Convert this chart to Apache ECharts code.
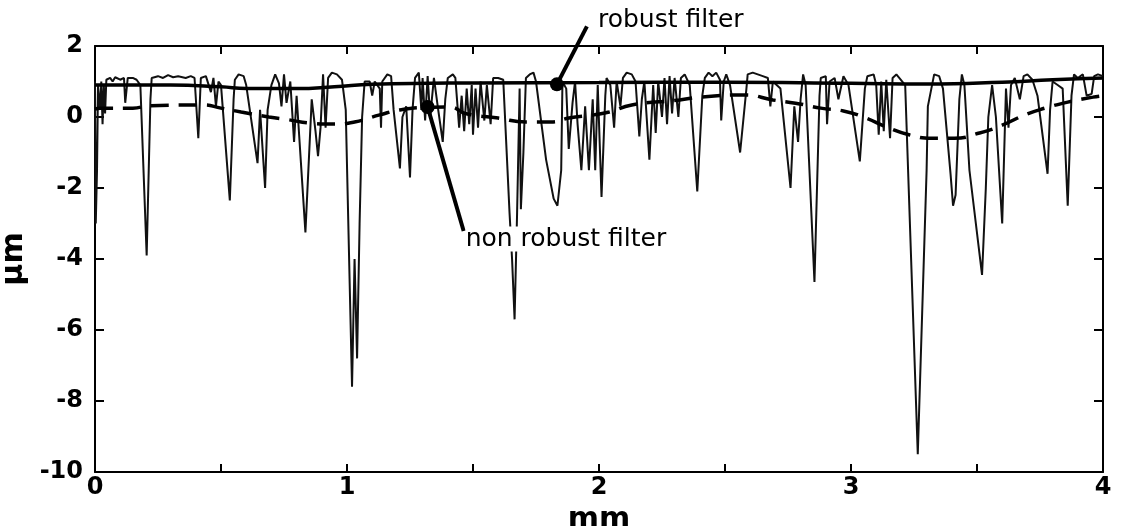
<!DOCTYPE html>
<html>
<head>
<meta charset="utf-8">
<script src="https://cdn.jsdelivr.net/npm/echarts@6/dist/echarts.min.js"></script>
<style>
html,body{margin:0;padding:0;background:#fff;}
#c{width:1124px;height:526px;}
</style>
</head>
<body>
<div id="c"></div>
<script>
// ---- data (mm, µm) ----
const xTicks = [0, 1, 2, 3, 4];
const yTicks = [-10, -8, -6, -4, -2, 0, 2];

const profileX = [0.000,0.003,0.008,0.012,0.020,0.025,0.030,0.035,0.040,0.045,0.060,0.070,0.080,0.100,0.115,0.120,0.130,0.150,0.165,0.180,0.205,0.220,0.225,0.250,0.270,0.290,0.310,0.330,0.360,0.380,0.395,0.410,0.420,0.440,0.460,0.470,0.480,0.490,0.500,0.535,0.550,0.555,0.570,0.590,0.600,0.645,0.655,0.675,0.685,0.700,0.715,0.730,0.740,0.750,0.760,0.775,0.790,0.800,0.835,0.860,0.875,0.885,0.895,0.905,0.915,0.925,0.940,0.960,0.980,0.995,1.010,1.020,1.030,1.040,1.050,1.060,1.070,1.090,1.100,1.110,1.130,1.135,1.140,1.160,1.175,1.185,1.210,1.220,1.235,1.250,1.260,1.270,1.285,1.295,1.300,1.310,1.320,1.330,1.345,1.360,1.380,1.390,1.400,1.420,1.430,1.445,1.455,1.465,1.475,1.485,1.495,1.500,1.510,1.520,1.530,1.545,1.555,1.570,1.580,1.600,1.620,1.645,1.655,1.665,1.675,1.685,1.690,1.700,1.710,1.725,1.740,1.750,1.790,1.820,1.835,1.850,1.855,1.870,1.880,1.895,1.905,1.915,1.930,1.945,1.960,1.975,1.985,1.995,2.010,2.025,2.030,2.045,2.060,2.070,2.085,2.095,2.110,2.130,2.145,2.160,2.170,2.180,2.200,2.215,2.225,2.235,2.250,2.260,2.270,2.280,2.290,2.300,2.315,2.325,2.340,2.360,2.390,2.410,2.420,2.435,2.450,2.465,2.480,2.485,2.495,2.505,2.520,2.560,2.585,2.590,2.610,2.630,2.650,2.670,2.680,2.690,2.720,2.760,2.775,2.790,2.800,2.810,2.820,2.855,2.875,2.880,2.900,2.905,2.915,2.935,2.950,2.970,2.990,3.035,3.055,3.065,3.090,3.100,3.110,3.120,3.130,3.140,3.155,3.165,3.180,3.215,3.265,3.300,3.305,3.330,3.350,3.365,3.395,3.405,3.415,3.430,3.440,3.450,3.470,3.520,3.535,3.545,3.560,3.575,3.600,3.615,3.625,3.635,3.650,3.670,3.685,3.700,3.720,3.740,3.780,3.790,3.800,3.820,3.840,3.860,3.875,3.885,3.900,3.920,3.935,3.955,3.965,3.980,4.000];
const profileY = [1.00,-3.00,-1.50,0.90,0.20,1.00,-0.20,0.90,0.10,1.05,1.10,1.00,1.12,1.05,1.10,0.40,1.10,1.10,1.05,0.90,-3.90,0.50,1.10,1.15,1.10,1.18,1.12,1.15,1.10,1.15,1.10,-0.60,1.10,1.15,0.70,1.10,0.30,1.00,0.90,-2.35,0.50,1.05,1.20,1.15,0.90,-1.30,0.20,-2.00,0.20,0.90,1.20,0.95,0.30,1.20,0.40,1.00,-0.70,0.60,-3.25,0.50,-0.40,-1.10,-0.30,1.20,-0.30,1.10,1.25,1.20,1.05,0.20,-4.50,-7.60,-4.00,-6.80,-3.00,0.00,1.00,1.00,0.60,1.00,0.80,-0.30,1.00,1.20,1.15,0.20,-1.45,0.00,0.30,-1.70,0.20,1.10,1.25,0.20,1.10,-0.10,1.15,0.00,1.10,0.30,-0.70,0.50,1.10,1.20,1.10,-0.30,0.60,-0.40,0.80,-0.20,0.90,-0.50,0.80,-0.30,1.00,-0.10,0.90,-0.20,1.10,1.10,1.05,-2.70,-4.00,-5.70,-2.70,0.80,-2.60,-1.00,1.10,1.20,1.25,1.00,-1.20,-2.30,-2.50,-1.50,1.00,0.80,-0.90,0.40,1.00,-0.20,-1.50,0.30,-1.50,0.50,-1.50,0.90,-2.25,0.60,1.10,0.90,-0.30,1.00,0.30,1.10,1.25,1.20,1.00,-0.55,0.50,1.00,-1.20,0.90,-0.45,1.00,0.00,1.10,-0.20,1.15,0.10,1.10,0.00,1.10,1.20,0.90,-2.10,0.60,1.10,1.25,1.15,1.25,1.05,-0.10,1.00,1.20,0.90,-1.00,0.80,1.20,1.25,1.20,1.15,1.10,0.30,1.00,0.80,-2.00,0.30,-0.70,0.50,1.20,0.90,-4.65,0.60,1.10,1.15,-0.20,1.00,1.10,0.50,1.15,0.90,-1.25,0.80,1.15,1.20,0.90,-0.50,1.00,-0.40,1.05,-0.60,1.10,1.20,0.90,-9.50,-1.50,0.30,1.20,1.15,0.80,-1.60,-2.50,-2.20,0.50,1.20,0.90,-1.50,-4.45,-2.00,0.00,0.90,0.00,-3.00,0.80,-0.30,0.90,1.10,0.50,1.15,1.20,1.05,0.60,-1.60,0.20,1.00,0.90,0.80,-2.50,0.60,1.20,1.10,1.20,0.60,0.65,1.15,1.20,1.15];

const robustX = [0.00,0.30,0.50,0.60,0.80,0.95,1.10,1.50,2.00,2.50,3.00,3.30,3.60,3.80,4.00];
const robustY = [0.90,0.90,0.85,0.80,0.80,0.85,0.92,0.96,0.97,0.98,0.95,0.93,0.98,1.05,1.10];

const nonRobustX = [0.00,0.02,0.15,0.22,0.43,0.50,0.58,0.69,0.77,0.85,0.95,1.03,1.13,1.21,1.32,1.41,1.47,1.60,1.71,1.81,1.88,1.98,2.04,2.13,2.32,2.40,2.58,2.69,2.78,2.88,2.97,3.06,3.14,3.23,3.32,3.41,3.51,3.60,3.69,3.77,3.86,3.96,4.00];
const nonRobustY = [0.22,0.25,0.25,0.32,0.34,0.25,0.14,0.00,-0.08,-0.17,-0.20,-0.14,0.06,0.20,0.27,0.28,0.10,-0.03,-0.14,-0.14,-0.03,0.06,0.14,0.34,0.48,0.56,0.62,0.48,0.39,0.25,0.17,-0.03,-0.28,-0.50,-0.60,-0.60,-0.45,-0.23,0.06,0.25,0.42,0.56,0.60];

// annotation anchors (data coords) and labels
const annotations = [
  {name: 'robust filter', at: [1.833, 0.92], textDx: 41, textDy: -64, lineDx: 30, lineDy: -58},
  {name: 'non robust filter', at: [1.32, 0.28], textDx: 38, textDy: 132, lineDx: 36, lineDy: 124}
];

const zip = (xs, ys) => xs.map((x, i) => [x, ys[i]]);

const FONT = '"DejaVu Sans", "Liberation Sans", Arial, sans-serif';
const chart = echarts.init(document.getElementById('c'), null, {renderer: 'canvas'});

const baseX = {
  type: 'value', min: 0, max: 4, interval: 0.5,
  axisLine: {show: true, onZero: false, lineStyle: {color: '#000', width: 2}},
  axisTick: {show: true, inside: true, length: 8, lineStyle: {color: '#000', width: 2}},
  splitLine: {show: false}
};
const baseY = {
  type: 'value', min: -10, max: 2, interval: 2,
  axisLine: {show: true, onZero: false, lineStyle: {color: '#000', width: 2}},
  axisTick: {show: true, inside: true, length: 9, lineStyle: {color: '#000', width: 2}},
  splitLine: {show: false}
};

chart.setOption({
  animation: false,
  backgroundColor: '#fff',
  grid: {left: 95, right: 21, top: 46, bottom: 54, containLabel: false, outerBoundsMode: 'none'},
  xAxis: [
    Object.assign({}, baseX, {
      position: 'bottom',
      name: 'mm', nameLocation: 'middle', nameGap: 29,
      nameTextStyle: {fontFamily: FONT, fontSize: 30, fontWeight: 'bold', color: '#000'},
      axisLabel: {
        show: true, margin: 4, fontFamily: FONT, fontSize: 24, fontWeight: 'bold', color: '#000',
        formatter: v => (xTicks.indexOf(v) >= 0 ? String(v) : '')
      }
    }),
    Object.assign({}, baseX, {position: 'top', axisLabel: {show: false}})
  ],
  yAxis: [
    Object.assign({}, baseY, {
      position: 'left',
      name: 'µm', nameLocation: 'middle', nameGap: 64, nameRotate: 90,
      nameTextStyle: {fontFamily: FONT, fontSize: 30, fontWeight: 'bold', color: '#000'},
      axisLabel: {
        show: true, margin: 12, fontFamily: FONT, fontSize: 24, fontWeight: 'bold', color: '#000',
        formatter: v => (yTicks.indexOf(v) >= 0 ? String(v) : '')
      }
    }),
    Object.assign({}, baseY, {position: 'right', axisLabel: {show: false}})
  ],
  series: [
    {
      name: 'profile', type: 'line', data: zip(profileX, profileY),
      showSymbol: false, symbol: 'none',
      lineStyle: {color: '#111', width: 2}, z: 2
    },
    {
      name: 'robust filter', type: 'line', data: zip(robustX, robustY),
      smooth: true, showSymbol: false, symbol: 'none',
      lineStyle: {color: '#000', width: 3.5}, z: 3
    },
    {
      name: 'non robust filter', type: 'line', data: zip(nonRobustX, nonRobustY),
      smooth: true, showSymbol: false, symbol: 'none',
      lineStyle: {color: '#000', width: 3.5, type: [18, 10]}, z: 3
    }
  ]
});

const g = [];
annotations.forEach(a => {
  const p = chart.convertToPixel({xAxisIndex: 0, yAxisIndex: 0}, a.at);
  g.push({
    type: 'line', z: 10,
    shape: {x1: p[0], y1: p[1], x2: p[0] + a.lineDx, y2: p[1] + a.lineDy},
    style: {stroke: '#000', lineWidth: 4}
  });
  g.push({
    type: 'circle', z: 10,
    shape: {cx: p[0], cy: p[1], r: 7},
    style: {fill: '#000'}
  });
  g.push({
    type: 'text', z: 11,
    x: p[0] + a.textDx, y: p[1] + a.textDy,
    style: {text: a.name, font: '25px ' + FONT, fill: '#000',
            verticalAlign: 'middle', backgroundColor: '#fff'}
  });
});
chart.setOption({graphic: g});
</script>
</body>
</html>
